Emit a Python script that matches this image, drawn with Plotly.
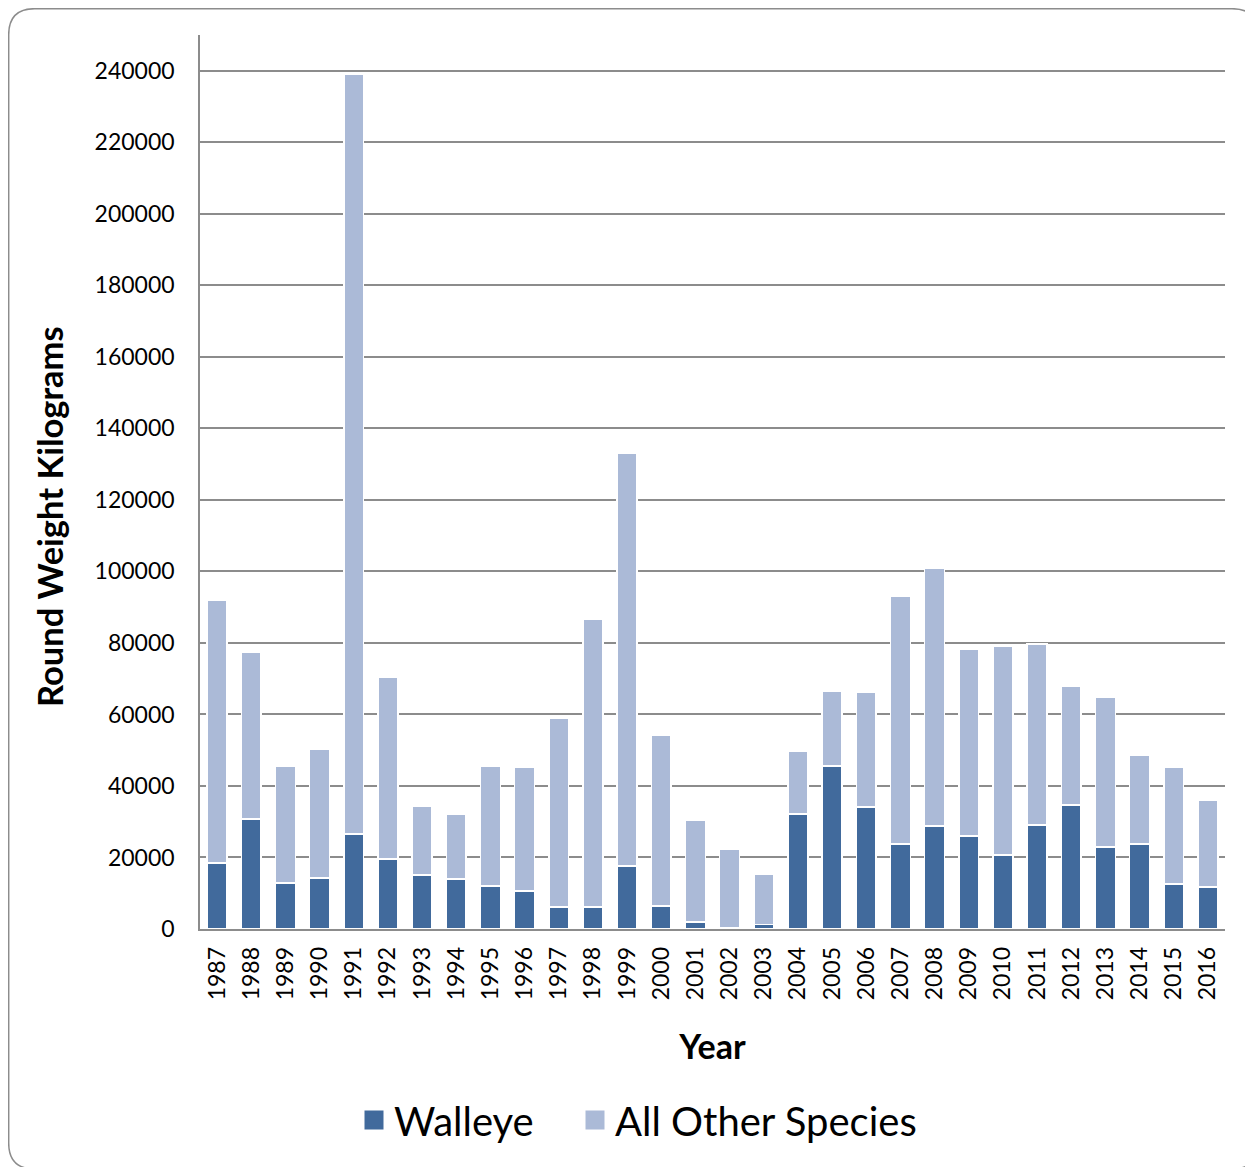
import plotly.graph_objects as go

years = [str(y) for y in range(1987, 2017)]
walleye = [18500, 30800, 12900, 14300, 26600, 19600, 15100, 14000, 12000, 10600,
           6200, 6200, 17600, 6400, 2000, 300, 1200, 32200, 45600, 34100,
           23800, 28800, 26000, 20700, 29100, 34700, 22900, 23800, 12600, 11700]
totals = [92000, 77500, 45600, 50300, 238900, 70500, 34400, 32200, 45600, 45300,
          59000, 86700, 133100, 54300, 30500, 22400, 15400, 49800, 66600, 66300,
          93100, 101000, 78300, 79200, 79700, 68000, 64900, 48700, 45300, 36100]
other = [t - w for t, w in zip(totals, walleye)]

FONT = "Lato"
C_WALL = "#416A9C"
C_OTHER = "#ABBAD7"

OFF = 8  # page body margin
W, H = 1253 - OFF, 1167 - OFF
L, R, T, B = 200 - OFF, 1225 - OFF, 35 - OFF, 929 - OFF

def px(x):
    return (x - OFF - L) / (R - L)

def py(y):
    return (B - (y - OFF)) / (B - T)

fig = go.Figure()
fig.add_trace(go.Bar(x=years, y=walleye, name="Walleye", marker_color=C_WALL,
                     marker_line=dict(color="white", width=1.5), showlegend=False))
fig.add_trace(go.Bar(x=years, y=other, name="All Other Species", marker_color=C_OTHER,
                     marker_line=dict(color="white", width=1.5), showlegend=False))
# legend entries
fig.add_trace(go.Scatter(x=[None], y=[None], mode="markers", name="Walleye", legend="legend",
                         marker=dict(symbol="square", size=16, color=C_WALL,
                                     line=dict(color=C_WALL, width=3))))
fig.add_trace(go.Scatter(x=[None], y=[None], mode="markers", name="All Other Species", legend="legend2",
                         marker=dict(symbol="square", size=16, color=C_OTHER,
                                     line=dict(color=C_OTHER, width=3))))

x0, x1, y0, y1, r = 8.7, 1258, 8.7, 1169, 26
path = (f"M {px(x0+r)} {py(y0)} L {px(x1-r)} {py(y0)} Q {px(x1)} {py(y0)} {px(x1)} {py(y0+r)} "
        f"L {px(x1)} {py(y1-r)} Q {px(x1)} {py(y1)} {px(x1-r)} {py(y1)} "
        f"L {px(x0+r)} {py(y1)} Q {px(x0)} {py(y1)} {px(x0)} {py(y1-r)} "
        f"L {px(x0)} {py(y0+r)} Q {px(x0)} {py(y0)} {px(x0+r)} {py(y0)} Z")

leg_common = dict(orientation="h", xanchor="left", yanchor="middle", y=py(1120),
                  font=dict(size=40, family=FONT), itemsizing="trace", itemwidth=30,
                  bgcolor="rgba(0,0,0,0)")

fig.update_layout(
    width=W, height=H,
    margin=dict(l=L, r=W - R, t=T, b=H - B, autoexpand=False),
    barmode="stack", bargap=0.42,
    plot_bgcolor="white", paper_bgcolor="white",
    font=dict(family=FONT, color="black"),
    showlegend=True,
    legend=dict(x=px(354), **leg_common),
    legend2=dict(x=px(575), **leg_common),
    shapes=[dict(type="path", xref="paper", yref="paper", path=path,
                 line=dict(color="#8C8C8C", width=1.5), fillcolor="rgba(0,0,0,0)", layer="below")],
    annotations=[dict(text="<b>Round Weight Kilograms</b>", xref="paper", yref="paper",
                      x=px(50), y=py(517), textangle=-90, showarrow=False,
                      font=dict(size=34.5, family=FONT), xanchor="center", yanchor="middle")],
)
fig.update_xaxes(
    type="category", tickangle=-90, tickfont=dict(size=23, family=FONT),
    showline=True, linecolor="#8C8C8C", linewidth=1.5, ticks="",
    ticklabelstandoff=7,
    title=dict(text="<b>Year</b>", font=dict(size=34, family=FONT), standoff=36),
    showgrid=False,
)
fig.update_yaxes(
    range=[0, 250000], tickvals=list(range(0, 240001, 20000)),
    tickformat="d", tickfont=dict(size=23, family=FONT),
    showline=True, linecolor="#8C8C8C", linewidth=1.5,
    showgrid=True, gridcolor="#8C8C8C", gridwidth=1.5, zeroline=False, ticks="",
    ticklabelstandoff=19,
)

fig.write_html("out.html")
